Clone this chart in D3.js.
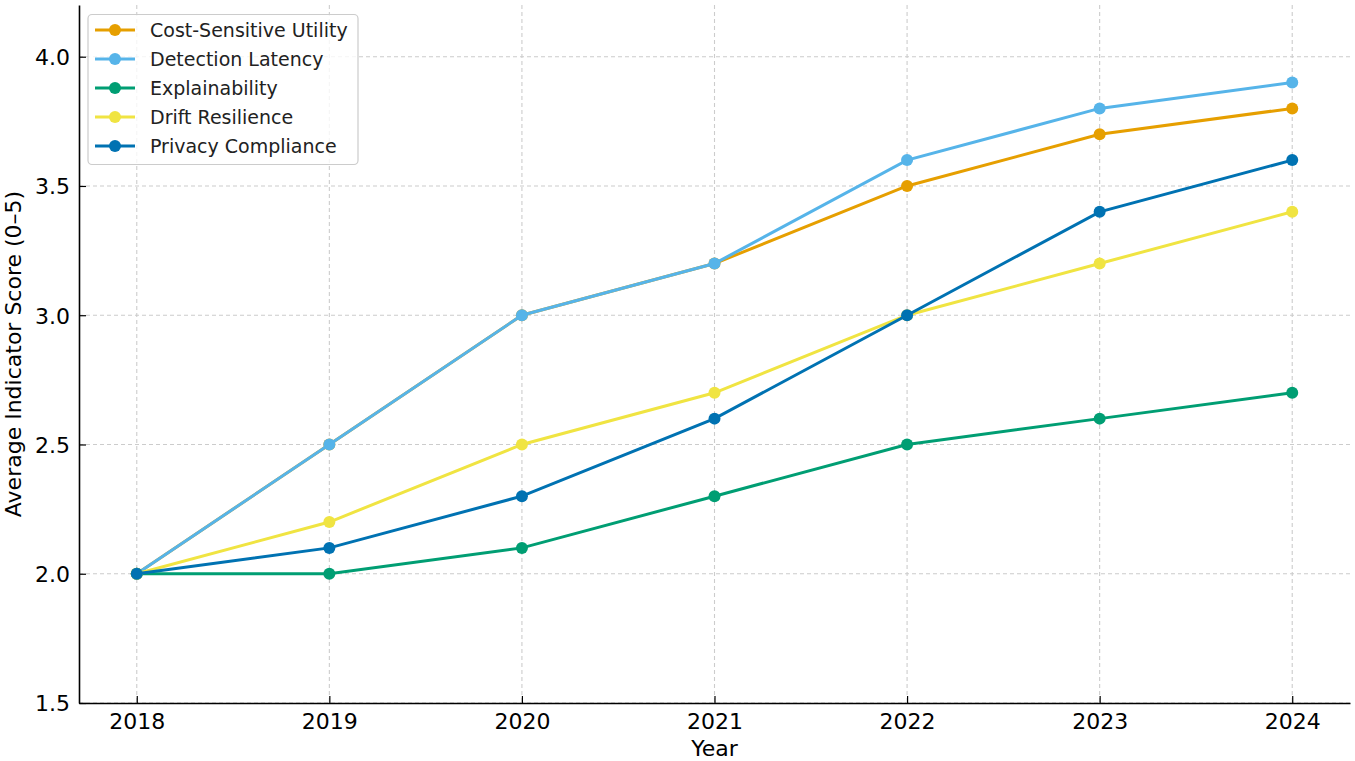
<!DOCTYPE html>
<html>
<head>
<meta charset="utf-8">
<script src="https://cdnjs.cloudflare.com/ajax/libs/d3/7.8.5/d3.min.js"></script>
<style>
  body { margin: 0; background: #fff; }
  svg { font-family: "DejaVu Sans", sans-serif; }
</style>
</head>
<body>
<div id="chart"></div>
<script>
var years = [2018, 2019, 2020, 2021, 2022, 2023, 2024];
var seriesNames = ["Cost-Sensitive Utility", "Detection Latency", "Explainability", "Drift Resilience", "Privacy Compliance"];
var seriesColors = ["#E69F00", "#56B4E9", "#009E73", "#F0E442", "#0072B2"];
var costSensitive = [2.0, 2.5, 3.0, 3.2, 3.5, 3.7, 3.8];
var detectionLatency = [2.0, 2.5, 3.0, 3.2, 3.6, 3.8, 3.9];
var explainability = [2.0, 2.0, 2.1, 2.3, 2.5, 2.6, 2.7];
var driftResilience = [2.0, 2.2, 2.5, 2.7, 3.0, 3.2, 3.4];
var privacyCompliance = [2.0, 2.1, 2.3, 2.6, 3.0, 3.4, 3.6];
var yTicks = [1.5, 2.0, 2.5, 3.0, 3.5, 4.0];

var allSeries = [costSensitive, detectionLatency, explainability, driftResilience, privacyCompliance];

var w = 1355, h = 761;
var pLeft = 79, pRight = 1350, pTop = 5, pBottom = 703;

var svg = d3.select("#chart").append("svg")
    .attr("width", w)
    .attr("height", h);

var x = d3.scaleLinear().domain([2017.7, 2024.3]).range([pLeft, pRight]);
var y = d3.scaleLinear().domain([1.5, 4.2]).range([pBottom, pTop]);

// grid
svg.append("g").selectAll("line")
    .data(years).enter().append("line")
    .attr("x1", function(d) { return x(d); })
    .attr("x2", function(d) { return x(d); })
    .attr("y1", pTop).attr("y2", pBottom)
    .attr("stroke", "#cccccc").attr("stroke-width", 1.1)
    .attr("stroke-dasharray", "4,3");
svg.append("g").selectAll("line")
    .data(yTicks).enter().append("line")
    .attr("y1", function(d) { return y(d); })
    .attr("y2", function(d) { return y(d); })
    .attr("x1", pLeft).attr("x2", pRight)
    .attr("stroke", "#cccccc").attr("stroke-width", 1.1)
    .attr("stroke-dasharray", "4,3");

// axes
var xAxis = d3.axisBottom(x).tickValues(years).tickFormat(d3.format("d"))
    .tickSizeInner(-7).tickSizeOuter(0).tickPadding(10);
var yAxis = d3.axisLeft(y).tickValues(yTicks).tickFormat(d3.format(".1f"))
    .tickSizeInner(-7).tickSizeOuter(0).tickPadding(9);

var gx = svg.append("g").attr("transform", "translate(0," + pBottom + ")").call(xAxis);
var gy = svg.append("g").attr("transform", "translate(" + pLeft + ",0)").call(yAxis);
[gx, gy].forEach(function(g) {
    g.select(".domain").attr("stroke", "#000").attr("stroke-width", 1.6);
    g.selectAll(".tick line").attr("stroke", "#000").attr("stroke-width", 1.2);
    g.selectAll(".tick text").attr("fill", "#000").style("font-size", "22px")
        .style("font-family", "DejaVu Sans, sans-serif");
});
gy.selectAll(".tick text").attr("dy", "0.36em");

// axis labels
svg.append("text")
    .attr("x", (pLeft + pRight) / 2).attr("y", 756)
    .attr("text-anchor", "middle")
    .style("font-size", "22px")
    .text("Year");
svg.append("text")
    .attr("transform", "translate(21," + ((pTop + pBottom) / 2) + ") rotate(-90)")
    .attr("text-anchor", "middle")
    .style("font-size", "22px")
    .text("Average Indicator Score (0–5)");

// lines
var line = d3.line()
    .x(function(d, i) { return x(years[i]); })
    .y(function(d) { return y(d); });

allSeries.forEach(function(s, k) {
    var g = svg.append("g");
    g.append("path")
        .datum(s)
        .attr("d", line)
        .attr("fill", "none")
        .attr("stroke", seriesColors[k])
        .attr("stroke-width", 3);
    g.selectAll("circle")
        .data(s).enter().append("circle")
        .attr("cx", function(d, i) { return x(years[i]); })
        .attr("cy", function(d) { return y(d); })
        .attr("r", 6)
        .attr("fill", seriesColors[k]);
});

// legend
var legend = svg.append("g");
legend.append("rect")
    .attr("x", 88).attr("y", 14.5)
    .attr("width", 270).attr("height", 150)
    .attr("rx", 4)
    .attr("fill", "#fff").attr("fill-opacity", 0.8)
    .attr("stroke", "#cccccc").attr("stroke-width", 1.2);

var items = legend.selectAll("g.item")
    .data(seriesNames).enter().append("g")
    .attr("transform", function(d, i) { return "translate(0," + (30 + i * 29) + ")"; });
items.append("line")
    .attr("x1", 95).attr("x2", 135)
    .attr("stroke", function(d, i) { return seriesColors[i]; })
    .attr("stroke-width", 3);
items.append("circle")
    .attr("cx", 115).attr("r", 6)
    .attr("fill", function(d, i) { return seriesColors[i]; });
items.append("text")
    .attr("x", 150).attr("dy", "0.35em")
    .style("font-size", "19px")
    .attr("fill", "#222")
    .text(function(d) { return d; });
</script>
</body>
</html>
